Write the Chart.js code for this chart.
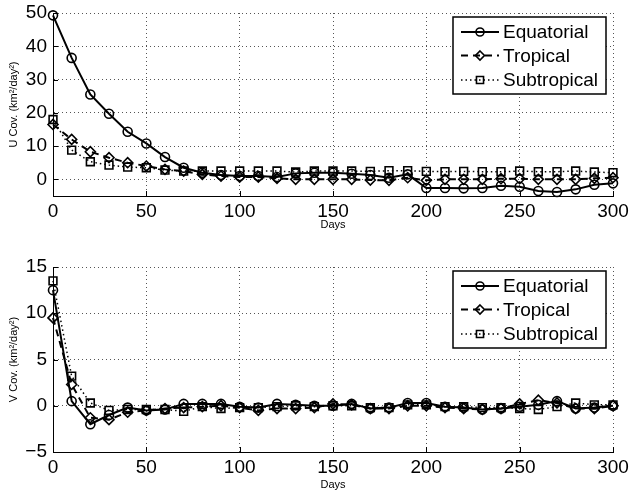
<!DOCTYPE html>
<html>
<head>
<meta charset="utf-8">
<script src="https://cdn.jsdelivr.net/npm/chart.js@4.4.1/dist/chart.umd.min.js"></script>
<style>
html,body{margin:0;padding:0;background:#fff;}
#wrap{position:relative;width:630px;height:496px;}
canvas{position:absolute;left:0;}
#c1{top:0;}
#c2{top:248px;}
</style>
</head>
<body>
<div id="wrap">
<canvas id="c1" width="630" height="248"></canvas>
<canvas id="c2" width="630" height="248"></canvas>
</div>
<script>
const days = [0,10,20,30,40,50,60,70,80,90,100,110,120,130,140,150,160,170,180,190,200,210,220,230,240,250,260,270,280,290,300];
const seriesNames = ['Equatorial','Tropical','Subtropical'];

const uEquatorial = [49.3,36.5,25.5,19.7,14.3,10.8,6.7,3.5,2.0,1.3,1.0,1.0,0.7,1.8,2.0,2.0,1.7,1.3,0.5,1.5,-2.6,-2.6,-2.7,-2.6,-1.9,-2.2,-3.5,-3.8,-3.0,-1.6,-1.2];
const uTropical   = [16.5,12.0,8.3,6.5,5.0,4.0,3.0,2.5,1.5,1.0,0.7,0.7,0.3,0.0,0.0,0.0,0.0,-0.2,-0.3,0.5,-0.3,0.0,0.0,0.0,0.2,0.2,0.0,0.0,0.0,0.3,0.5];
const uSubtropical= [18.0,8.8,5.3,4.3,3.7,3.5,2.8,2.5,2.5,2.5,2.5,2.5,2.5,2.2,2.5,2.5,2.5,2.4,2.6,2.6,2.4,2.3,2.4,2.3,2.3,2.5,2.3,2.3,2.5,2.2,2.0];

const vEquatorial = [12.5,0.5,-2.0,-1.0,-0.2,-0.5,-0.4,0.2,0.2,0.2,-0.1,-0.2,0.2,0.1,0.0,0.0,0.2,-0.3,-0.2,0.3,0.3,-0.1,-0.2,-0.4,-0.3,-0.1,0.1,0.5,-0.3,-0.2,0.0];
const vTropical   = [9.5,2.3,-1.3,-1.5,-0.7,-0.5,-0.3,-0.2,-0.1,0.0,-0.2,-0.5,-0.3,-0.3,-0.2,0.2,0.1,-0.3,-0.3,0.0,0.0,-0.2,-0.3,-0.4,-0.3,0.2,0.6,0.3,-0.3,-0.3,0.0];
const vSubtropical= [13.5,3.2,0.3,-0.5,-0.4,-0.4,-0.4,-0.6,-0.1,-0.3,-0.2,-0.2,-0.1,0.0,-0.1,0.0,0.0,-0.2,-0.2,0.1,0.1,-0.1,-0.1,-0.2,-0.2,-0.3,-0.4,-0.1,0.3,0.1,0.1];

const xTicks = [0,50,100,150,200,250,300];
const uTicks = [0,10,20,30,40,50];
const vTicks = [-5,0,5,10,15];

const FONT = '"Liberation Sans", Arial, Helvetica, sans-serif';

const styles = [
  {borderWidth:2, borderDash:[], pointStyle:'circle', pointRadius:4.5},
  {borderWidth:2, borderDash:[7,5], pointStyle:'rectRot', pointRadius:5},
  {borderWidth:1.5, borderDash:[1.5,3], pointStyle:'rect', pointRadius:5.5}
];

function makeDatasets(arrs){
  return arrs.map((a,i)=>({
    label: seriesNames[i],
    data: days.map((d,j)=>({x:d,y:a[j]})),
    borderColor:'#000',
    backgroundColor:'rgba(0,0,0,0)',
    borderWidth: styles[i].borderWidth,
    borderDash: styles[i].borderDash,
    pointStyle: styles[i].pointStyle,
    pointRadius: styles[i].pointRadius,
    pointBorderWidth: 1.6,
    pointBorderColor:'#000',
    pointBackgroundColor:'rgba(0,0,0,0)',
    tension:0,
    clip:false,
    order: 3-i
  }));
}

function drawMarker(ctx, style, r, x, y){
  ctx.save();
  ctx.setLineDash([]);
  ctx.lineWidth = 1.6;
  ctx.strokeStyle = '#000';
  ctx.beginPath();
  if(style==='circle'){ ctx.arc(x,y,r,0,Math.PI*2); }
  else if(style==='rectRot'){ ctx.moveTo(x,y-r); ctx.lineTo(x+r,y); ctx.lineTo(x,y+r); ctx.lineTo(x-r,y); ctx.closePath(); }
  else { const s=r*Math.SQRT1_2; ctx.rect(x-s,y-s,2*s,2*s); }
  ctx.stroke();
  ctx.restore();
}

const boxLegend = {
  id:'boxLegend',
  afterDraw(chart, args, opts){
    const ctx = chart.ctx;
    const b = opts.box;
    ctx.save();
    ctx.fillStyle='#fff';
    ctx.fillRect(b.x,b.y,b.w,b.h);
    ctx.strokeStyle='#000';
    ctx.lineWidth=1.5;
    ctx.setLineDash([]);
    ctx.strokeRect(b.x,b.y,b.w,b.h);
    chart.data.datasets.forEach((ds,i)=>{
      const y = b.y + opts.rows[i];
      ctx.save();
      ctx.strokeStyle='#000';
      ctx.lineWidth=ds.borderWidth;
      ctx.setLineDash(ds.borderDash);
      ctx.beginPath();
      ctx.moveTo(b.x+8,y); ctx.lineTo(b.x+46,y);
      ctx.stroke();
      ctx.restore();
      drawMarker(ctx, ds.pointStyle, ds.pointRadius-0.5, b.x+27, y);
      ctx.fillStyle='#000';
      ctx.font = '19px '+FONT;
      ctx.textBaseline='middle';
      ctx.textAlign='left';
      ctx.fillText(ds.label, b.x+50, y+1);
    });
    ctx.restore();
  }
};

const innerTicks = {
  id:'innerTicks',
  afterDatasetsDraw(chart){
    const ctx = chart.ctx;
    const a = chart.chartArea;
    ctx.save();
    ctx.strokeStyle='#000';
    ctx.lineWidth=1;
    ctx.setLineDash([]);
    const xs = chart.scales.x, ys = chart.scales.y;
    xs.ticks.forEach(t=>{
      const px = Math.round(xs.getPixelForValue(t.value))+0.5;
      ctx.beginPath(); ctx.moveTo(px,a.bottom); ctx.lineTo(px,a.bottom-5); ctx.stroke();
    });
    ys.ticks.forEach(t=>{
      const py = Math.round(ys.getPixelForValue(t.value))+0.5;
      ctx.beginPath(); ctx.moveTo(a.left,py); ctx.lineTo(a.left+5,py); ctx.stroke();
    });
    ctx.restore();
  }
};

function fmt(v){ return String(v).replace('-', '\u2212'); }

function makeChart(id, arrs, yMin, yMax, yTickVals, yTitle, padTop, xHeight, titleBottom){
  return new Chart(document.getElementById(id), {
    type:'line',
    data:{datasets: makeDatasets(arrs)},
    plugins:[innerTicks, boxLegend],
    options:{
      responsive:false,
      animation:false,
      events:[],
      layout:{padding:{top:padTop,right:17,left:0,bottom:0}},
      plugins:{
        legend:{display:false},
        tooltip:{enabled:false},
        boxLegend:{box:{x:453,y:padTop+4,w:153,h:77}, rows:[15,38.5,63]}
      },
      scales:{
        x:{
          type:'linear', min:0, max:300,
          afterBuildTicks: s => { s.ticks = xTicks.map(v=>({value:v})); },
          afterFit: s => { s.height = xHeight; s.paddingLeft = 0; s.paddingRight = 0; },
          ticks:{color:'#000', font:{family:FONT,size:19}, padding:4, maxRotation:0, callback:v=>fmt(v)},
          grid:{color:'#555', lineWidth:1, drawTicks:false},
          border:{display:true, color:'#000', width:1, dash:[1,3]},
          title:{display:true, text:'Days', color:'#000', font:{family:FONT,size:11}, padding:{top:2,bottom:titleBottom}}
        },
        y:{
          type:'linear', min:yMin, max:yMax,
          afterBuildTicks: s => { s.ticks = yTickVals.map(v=>({value:v})); },
          afterFit: s => { s.width = 53; s.paddingTop = 0; s.paddingBottom = 0; },
          ticks:{color:'#000', font:{family:FONT,size:19}, padding:6, callback:v=>fmt(v)},
          grid:{color:'#555', lineWidth:1, drawTicks:false},
          border:{display:true, color:'#000', width:1, dash:[1,3]},
          title:{display:true, text:yTitle, color:'#000', font:{family:FONT,size:11}, padding:{top:7,bottom:0}}
        }
      }
    }
  });
}

makeChart('c1', [uEquatorial,uTropical,uSubtropical], -5, 50, uTicks, 'U Cov. (km\u00b2/day\u00b2)', 13, 52, 16);
makeChart('c2', [vEquatorial,vTropical,vSubtropical], -5, 15, vTicks, 'V Cov. (km\u00b2/day\u00b2)', 19, 44, 4);
</script>
</body>
</html>
